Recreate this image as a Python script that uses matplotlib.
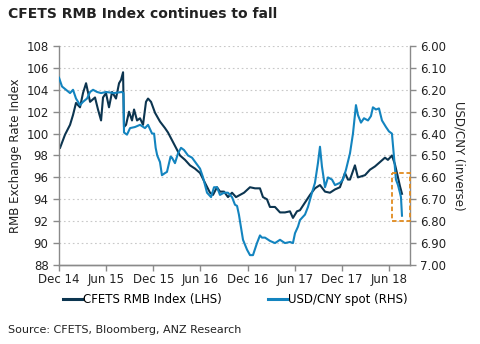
import matplotlib
matplotlib.use("Agg")
import matplotlib.pyplot as plt
from matplotlib.patches import Rectangle

# x values: months since Dec 2014
cfets_x = [0.13, 0.76, 1.4, 1.78, 2.16, 2.67, 3.05, 3.44, 3.95, 4.58, 4.96, 5.35, 5.6, 5.98,
           6.36, 6.75, 7.25, 7.64, 7.89, 8.15, 8.27, 8.53, 8.91, 9.29, 9.55, 9.93, 10.31, 10.69,
           11.07, 11.33, 11.71, 12.22, 12.85, 13.49, 13.87, 14.38, 14.89, 15.4, 16.04, 16.67,
           17.31, 17.95, 18.58, 19.22, 19.6, 20.11, 20.49, 21.0, 21.51, 22.02, 22.53, 23.04,
           23.55, 24.31, 24.95, 25.58, 25.96, 26.47, 26.85, 27.49, 28.13, 28.76, 29.4, 29.78, 30.29,
           30.67, 31.31, 31.95, 32.58, 33.22, 33.86, 34.49, 35.13, 35.76, 36.4, 36.78, 37.04,
           37.67, 38.05, 38.95, 39.58, 40.22, 40.86, 41.49, 41.87, 42.38, 42.76, 43.15, 43.4, 43.66]
cfets_y = [98.7, 99.9, 100.8, 101.7, 102.8, 102.4, 103.7, 104.6, 102.9, 103.3, 102.2, 101.2, 103.3, 103.7,
           102.4, 103.8, 103.2, 104.6, 104.9, 105.6, 100.6, 100.8, 102.0, 101.2, 102.2, 101.2, 101.4, 100.8,
           102.9, 103.2, 102.9, 101.9, 101.1, 100.5, 100.1, 99.4, 98.7, 98.0, 97.6, 97.1,
           96.8, 96.4, 95.5, 94.6, 94.4, 95.1, 94.7, 94.7, 94.2, 94.6, 94.2, 94.4,
           94.6, 95.1, 95.0, 95.0, 94.2, 94.0, 93.3, 93.3, 92.8, 92.8, 92.9, 92.3, 92.9,
           93.0, 93.7, 94.4, 95.0, 95.3, 94.7, 94.6, 94.9, 95.1, 96.4, 95.8, 95.8,
           97.1, 96.0, 96.2, 96.7, 97.0, 97.4, 97.8, 97.6, 98.0, 97.2, 96.0, 95.2, 94.5]

usdcny_x = [0.0, 0.38, 0.89, 1.4, 1.78, 2.16, 2.67, 3.05, 3.56, 3.95, 4.33, 4.84, 5.35, 6.0, 7.0,
            8.0, 8.2, 8.27, 8.65, 9.04, 9.67, 10.31, 10.94, 11.33, 11.84, 12.1, 12.3, 12.5, 12.85,
            13.1, 13.5, 13.74, 14.2, 14.38, 14.76, 15.15, 15.53, 15.91, 16.42, 16.93, 17.44, 17.95,
            18.33, 18.84, 19.35, 19.73, 20.11, 20.49, 21.0, 21.51, 22.02, 22.4, 22.66, 22.9,
            23.42, 23.93, 24.31, 24.69, 25.2, 25.58, 25.83, 26.22, 26.85, 27.49, 28.13, 28.76,
            29.4, 29.78, 30.04, 30.42, 30.67, 31.05, 31.31, 31.69, 32.2, 32.58, 32.96, 33.22,
            33.47, 33.86, 34.24, 34.75, 35.13, 35.76, 36.15, 36.53, 37.04, 37.42, 37.8, 38.05,
            38.44, 38.82, 39.33, 39.71, 39.96, 40.35, 40.73, 41.11, 41.62, 42.0, 42.38, 42.64,
            42.89, 43.15, 43.4, 43.53, 43.66]
usdcny_y = [6.145, 6.185, 6.20, 6.215, 6.20, 6.24, 6.27, 6.255, 6.24, 6.21, 6.20, 6.21, 6.215, 6.21, 6.215,
            6.21, 6.215, 6.395, 6.405, 6.375, 6.37, 6.36, 6.375, 6.36, 6.40, 6.40, 6.465, 6.50, 6.53,
            6.59, 6.58, 6.575, 6.505, 6.51, 6.535, 6.49, 6.465, 6.475, 6.50, 6.51, 6.535, 6.56,
            6.60, 6.67, 6.69, 6.645, 6.645, 6.68, 6.67, 6.67, 6.69, 6.725, 6.73, 6.77,
            6.885, 6.93, 6.955, 6.955, 6.90, 6.865, 6.875, 6.875, 6.89, 6.90, 6.885, 6.90,
            6.895, 6.90, 6.855, 6.825, 6.795, 6.78, 6.77, 6.735, 6.67, 6.625, 6.535, 6.46,
            6.55, 6.645, 6.60, 6.61, 6.635, 6.625, 6.61, 6.565, 6.49, 6.40, 6.27, 6.315,
            6.35, 6.33, 6.34, 6.32, 6.28, 6.29, 6.285, 6.34, 6.37, 6.39, 6.40, 6.505,
            6.61, 6.635, 6.67, 6.69, 6.775]

tick_pos = [0, 6, 12, 18, 24, 30, 36, 42]
tick_labels = ["Dec 14", "Jun 15", "Dec 15", "Jun 16", "Dec 16", "Jun 17", "Dec 17", "Jun 18"]
left_ticks = [88, 90, 92, 94, 96, 98, 100, 102, 104, 106, 108]
right_ticks = [6.0, 6.1, 6.2, 6.3, 6.4, 6.5, 6.6, 6.7, 6.8, 6.9, 7.0]

dark = "#0c3550"
light = "#1384bf"
spine_c = "#8a8a8a"
txt = "#222222"

plt.rcParams['font.family'] = ['DejaVu Sans']
fig = plt.figure(figsize=(4.8, 3.44), dpi=100)
ax = fig.add_axes([0.123, 0.2297, 0.731, 0.6366])
ax2 = ax.twinx()

ax.plot(cfets_x, cfets_y, color=dark, lw=1.5, solid_joinstyle='round')
ax2.plot(usdcny_x, usdcny_y, color=light, lw=1.5, solid_joinstyle='round')

ax.set_xlim(0, 44.67)
ax.set_ylim(88, 108)
ax2.set_ylim(7.0, 6.0)
ax.set_xticks(tick_pos)
ax.set_xticklabels(tick_labels)
ax.set_yticks(left_ticks)
ax.set_yticklabels([str(t) for t in left_ticks])
ax2.set_yticks(right_ticks)
ax2.set_yticklabels([f"{t:.2f}" for t in right_ticks])

for t in left_ticks[1:]:
    ax.axhline(t, color="#c8c8c8", lw=0.8, ls=(0, (1.5, 2.5)), zorder=0)

for a in (ax, ax2):
    a.spines['top'].set_visible(False)
    for s in ('left', 'right', 'bottom'):
        a.spines[s].set_color(spine_c)
        a.spines[s].set_linewidth(1.0)
    a.tick_params(colors=spine_c, labelcolor=txt, labelsize=8.5, length=4, width=1.0)
ax.spines['right'].set_visible(False)
ax2.spines['left'].set_visible(False)
ax.tick_params(axis='x', pad=2)

ax.set_ylabel("RMB Exchange Rate Index", fontsize=8.5, color=txt, labelpad=3)
ax2.set_ylabel("USD/CNY (inverse)", fontsize=8.5, color=txt, rotation=-90, labelpad=14)

box = Rectangle((42.4, 6.58), 2.25, 0.22, fill=False, edgecolor="#e08a1e",
                lw=1.3, ls=(0, (2.5, 1.5)), clip_on=False, zorder=5)
ax2.add_patch(box)

fig.text(0.017, 0.958, "CFETS RMB Index continues to fall", fontsize=10, fontweight='bold',
         color=txt, va='center', ha='left')

fig.legend(handles=[plt.Line2D([], [], color=dark, lw=2.2), plt.Line2D([], [], color=light, lw=2.2)],
           labels=["CFETS RMB Index (LHS)", "USD/CNY spot (RHS)"],
           loc='center', bbox_to_anchor=(0.49, 0.128), ncol=2, frameon=False,
           fontsize=8.5, handlelength=1.6, handletextpad=0.1, columnspacing=3.9)

fig.text(0.017, 0.04, "Source: CFETS, Bloomberg, ANZ Research", fontsize=8, color=txt,
         va='center', ha='left')

fig.savefig("out.png", dpi=100, facecolor='white')
